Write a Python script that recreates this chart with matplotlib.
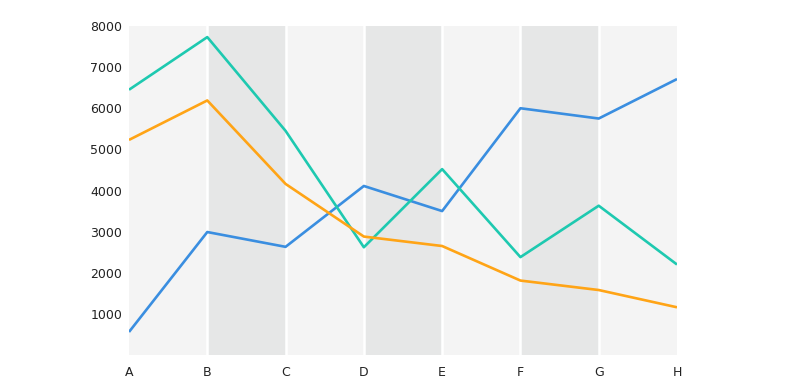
import numpy as np
import matplotlib.pyplot as plt

# data
categories = ['A', 'B', 'C', 'D', 'E', 'F', 'G', 'H']
blue = [560, 2990, 2630, 4110, 3500, 6000, 5750, 6710]
teal = [6450, 7730, 5450, 2620, 4520, 2380, 3630, 2200]
orange = [5230, 6190, 4160, 2880, 2650, 1810, 1580, 1160]
y_ticks = [1000, 2000, 3000, 4000, 5000, 6000, 7000, 8000]

fig = plt.figure(figsize=(7.86, 3.9), dpi=100)
ax = fig.add_axes([129 / 786, 35 / 390, 548 / 786, 329 / 390])

x = np.arange(len(categories))

# alternating background bands
for i in range(len(categories) - 1):
    col = '#f4f4f4' if i % 2 == 0 else '#e6e7e7'
    ax.axvspan(x[i], x[i + 1], color=col, lw=0, zorder=0)
for xi in x[1:-1]:
    ax.axvline(xi, color='white', lw=1.8, zorder=1)

ax.plot(x, blue, color='#3a8ee0', lw=1.9, zorder=3, solid_capstyle='butt')
ax.plot(x, teal, color='#1ec9b0', lw=1.9, zorder=3, solid_capstyle='butt')
ax.plot(x, orange, color='#ffa416', lw=1.9, zorder=3, solid_capstyle='butt')

ax.set_xlim(0, len(categories) - 1)
ax.set_ylim(0, 8000)
ax.set_xticks(x)
ax.set_xticklabels(categories)
ax.set_yticks(y_ticks)
ax.set_yticklabels([str(v) for v in y_ticks])
ax.tick_params(length=0, labelsize=9, colors='#222222')
ax.tick_params(axis='x', pad=8)
ax.tick_params(axis='y', pad=5)
for s in ax.spines.values():
    s.set_visible(False)

fig.savefig('out.png', dpi=100)
